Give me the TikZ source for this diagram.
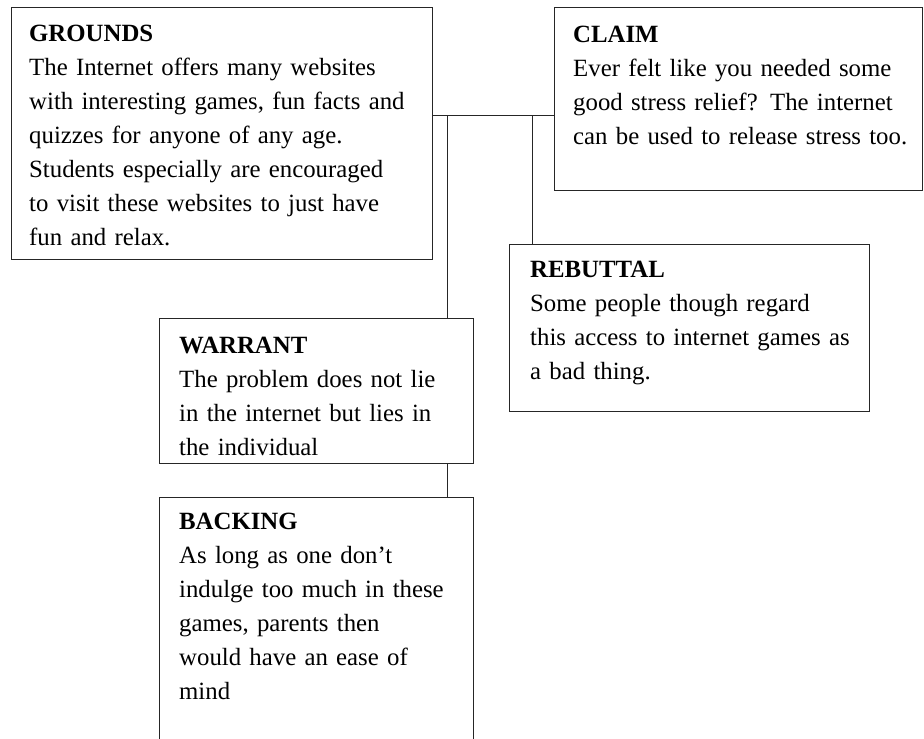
\documentclass[tikz,border=0pt]{standalone}
\usepackage{fontspec}
\setmainfont{Liberation Serif}
\setlength{\parindent}{0pt}
\begin{document}
\begin{tikzpicture}[x=1pt,y=-1pt,
  box/.style={draw=black!85,line width=0.9pt,rectangle,inner sep=0pt,anchor=north west},
  txt/.style={anchor=base west,inner sep=0pt,text width=400pt,align=left,font=\fontsize{24.8}{34}\selectfont},
  conn/.style={draw=black!85,line width=0.9pt}]
\useasboundingbox (0,0) rectangle (924,739);
\clip (0,0) rectangle (924,739);
\fill[white] (0,0) rectangle (924,739);
% boxes
\node[box,minimum width=421pt,minimum height=252pt] (grounds) at (11,7) {};
\node[box,minimum width=368pt,minimum height=183pt] (claim) at (554,7) {};
\node[box,minimum width=360pt,minimum height=167pt] (rebuttal) at (509,244) {};
\node[box,minimum width=314pt,minimum height=145pt] (warrant) at (159,318) {};
\node[box,minimum width=314pt,minimum height=270pt] (backing) at (159,497) {};
% texts
\node[txt] (tgrounds) at (29,41) {\textbf{GROUNDS}\\The Internet offers many websites\\with interesting games, fun facts and\\quizzes for anyone of any age.\\Students especially are encouraged\\to visit these websites to just have\\fun and relax.};
\node[txt] (tclaim) at (573,42) {\textbf{CLAIM}\\Ever felt like you needed some\\good stress relief? The internet\\can be used to release stress too.};
\node[txt] (trebuttal) at (530,277) {\textbf{REBUTTAL}\\Some people though regard\\this access to internet games as\\a bad thing.};
\node[txt] (twarrant) at (179,353) {\textbf{WARRANT}\\The problem does not lie\\in the internet but lies in\\the individual};
\node[txt] (tbacking) at (179,529) {\textbf{BACKING}\\As long as one don’t\\indulge too much in these\\games, parents then\\would have an ease of\\mind};
% connectors
\coordinate (h) at (447,115);
\coordinate (k) at (532,115);
\draw[conn] (grounds.east |- h) -- (claim.west |- h);
\draw[conn] (h) -- (h |- warrant.north);
\draw[conn] (k) -- (k |- rebuttal.north);
\draw[conn] (h |- warrant.south) -- (h |- backing.north);
\end{tikzpicture}
\end{document}
